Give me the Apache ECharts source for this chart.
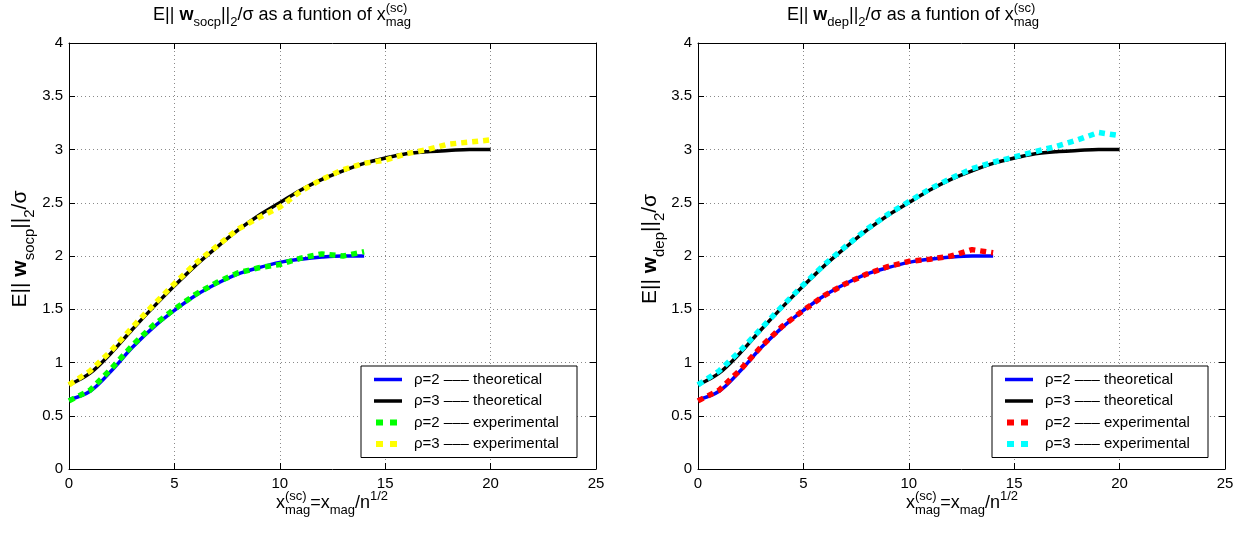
<!DOCTYPE html>
<html>
<head>
<meta charset="utf-8">
<script src="https://cdn.jsdelivr.net/npm/echarts@6/dist/echarts.min.js"></script>
<style>
html,body{margin:0;padding:0;background:#fff;}
#chart{width:1245px;height:533px;}
</style>
</head>
<body>
<div id="chart"></div>
<script>
// ---------- data ----------
const xRho2 = [0,1,2,3,4,5,6,7,8,9,10,11,12,13,14];
const xRho3 = [0,1,2,3,4,5,6,7,8,9,10,11,12,13,14,15,16,17,18,19,20];
const theoRho2 = [0.65,0.73,0.92,1.14,1.33,1.49,1.63,1.74,1.83,1.89,1.94,1.97,1.99,2.00,2.00];
const theoRho3 = [0.79,0.90,1.09,1.31,1.52,1.72,1.91,2.08,2.24,2.38,2.50,2.62,2.72,2.80,2.87,2.92,2.96,2.98,2.99,3.00,3.00];
const socpExpRho2 = [0.64,0.74,0.94,1.16,1.35,1.50,1.64,1.75,1.84,1.89,1.92,1.98,2.02,2.00,2.04];
const socpExpRho3 = [0.79,0.92,1.11,1.33,1.54,1.74,1.93,2.09,2.25,2.36,2.46,2.61,2.72,2.81,2.87,2.90,2.96,3.00,3.05,3.07,3.09];
const depExpRho2 = [0.64,0.74,0.93,1.15,1.34,1.49,1.63,1.74,1.83,1.90,1.95,1.97,2.00,2.06,2.03];
const depExpRho3 = [0.79,0.92,1.11,1.32,1.53,1.73,1.92,2.09,2.25,2.39,2.51,2.63,2.73,2.82,2.88,2.93,2.98,3.03,3.09,3.16,3.13];
const xTickValues = [0,5,10,15,20,25];
const yTickValues = [0,0.5,1,1.5,2,2.5,3,3.5,4];
const legendLabels = ['ρ=2 ––– theoretical','ρ=3 ––– theoretical','ρ=2 ––– experimental','ρ=3 ––– experimental'];

// ---------- helpers ----------
const FAMILY = "'Liberation Sans', Arial, Helvetica, sans-serif";
const mctx = document.createElement('canvas').getContext('2d');
function fontStr(size, bold){ return (bold ? 'bold ' : 'normal ') + size + 'px ' + FAMILY; }
function tw(t, size, bold){ mctx.font = fontStr(size, bold); return mctx.measureText(t).width; }
function txt(t, x, baseline, size, bold){
  return {type:'text', x:x, y:baseline - 0.35*size, silent:true,
    style:{text:t, font:fontStr(size,bold), fill:'#000', align:'left', verticalAlign:'middle', textAlign:'left', textVerticalAlign:'middle'}};
}
// parts: [kind, text] ; kind n,b,sub,sup ; stack: ['stack', sup, sub]
function mathGroup(parts, cx, cy, rot, F, S){
  F = F || 18; S = S || 13;
  const SUB = 0.33*F, SUP = -0.45*F;
  let x = 0; const els = [];
  parts.forEach(p => {
    const k = p[0];
    if (k === 'n' || k === 'b') { els.push(txt(p[1], x, 0, F, k==='b')); x += tw(p[1], F, k==='b'); }
    else if (k === 'sub') { els.push(txt(p[1], x, SUB, S)); x += tw(p[1], S); }
    else if (k === 'sup') { els.push(txt(p[1], x, SUP, S)); x += tw(p[1], S); }
    else if (k === 'stack') { els.push(txt(p[1], x, SUP, S)); els.push(txt(p[2], x, SUB, S)); x += Math.max(tw(p[1],S), tw(p[2],S)); }
  });
  els.forEach(e => { e.x -= x/2; });
  return {type:'group', x:cx, y:cy, rotation:rot||0, children:els};
}
function titleParts(sub){ return [['n','E|| '],['b','w'],['sub',sub],['n','||'],['sub','2'],['n','/σ as a funtion of x'],['stack','(sc)','mag']]; }
function ylabParts(sub){ return [['n','E|| '],['b','w'],['sub',sub],['n','||'],['sub','2'],['n','/σ']]; }
const xlabParts = [['n','x'],['stack','(sc)','mag'],['n','=x'],['sub','mag'],['n','/n'],['sup','1/2']];

// ---------- layout ----------
const grids = [
  {left:69, top:43, width:527, height:426},
  {left:698, top:43, width:527, height:426}
];
const gridColor = '#8a8a8a';
function mkX(gi, pos){
  const main = pos === 'bottom';
  return {type:'value', gridIndex:gi, position:pos, min:0, max:25, interval:5,
    axisLine:{show:true, onZero:false, lineStyle:{color:'#000', width:1}},
    axisTick:{show:true, inside:true, length:6, lineStyle:{color:'#000'}},
    axisLabel:{show:main, margin:7, color:'#000', fontSize:15, fontFamily:FAMILY,
      formatter: v => xTickValues.indexOf(v) >= 0 ? String(v) : ''},
    splitLine:{show:main, lineStyle:{color:gridColor, type:[1,3], width:1}}};
}
function mkY(gi, pos){
  const main = pos === 'left';
  return {type:'value', gridIndex:gi, position:pos, min:0, max:4, interval:0.5,
    axisLine:{show:true, onZero:false, lineStyle:{color:'#000', width:1}},
    axisTick:{show:true, inside:true, length:6, lineStyle:{color:'#000'}},
    axisLabel:{show:main, margin:6, color:'#000', fontSize:15, fontFamily:FAMILY,
      formatter: v => yTickValues.indexOf(v) >= 0 ? String(v) : ''},
    splitLine:{show:main, lineStyle:{color:gridColor, type:[1,3], width:1}}};
}
function pairs(xs, ys){ return xs.map((x,i) => [x, ys[i]]); }
function solid(name, gi, xs, ys, color){
  return {name:name, type:'line', xAxisIndex:gi*2, yAxisIndex:gi*2, data:pairs(xs,ys),
    showSymbol:false, symbol:'none', smooth:0.35, z:2,
    lineStyle:{color:color, width:3.5}, itemStyle:{color:color}};
}
function dotted(name, gi, xs, ys, color){
  return {name:name, type:'line', xAxisIndex:gi*2, yAxisIndex:gi*2, data:pairs(xs,ys),
    showSymbol:false, symbol:'none', smooth:false, z:3,
    lineStyle:{color:color, width:5.5, type:[6,5], cap:'butt'}, itemStyle:{color:color}};
}
const series = [
  solid('L_t2', 0, xRho2, theoRho2, '#0000ff'),
  solid('L_t3', 0, xRho3, theoRho3, '#000000'),
  dotted('L_e2', 0, xRho2, socpExpRho2, '#00ff00'),
  dotted('L_e3', 0, xRho3, socpExpRho3, '#ffff00'),
  solid('R_t2', 1, xRho2, theoRho2, '#0000ff'),
  solid('R_t3', 1, xRho3, theoRho3, '#000000'),
  dotted('R_e2', 1, xRho2, depExpRho2, '#ff0000'),
  dotted('R_e3', 1, xRho3, depExpRho3, '#00ffff')
];
const nameMap = {L_t2:0,L_t3:1,L_e2:2,L_e3:3,R_t2:0,R_t3:1,R_e2:2,R_e3:3};
function mkLegend(prefix, left){
  const names = ['_t2','_t3','_e2','_e3'].map(s => prefix + s);
  return {show:true, orient:'vertical', left:left, top:366, itemWidth:28, itemHeight:15, itemGap:6.5,
    padding:[6,3,6,10], borderColor:'#000', borderWidth:1, backgroundColor:'#fff',
    selectedMode:false,
    itemStyle:{opacity:0, borderWidth:0},
    data: names.map((n,i) => ({name:n, itemStyle:{opacity:0, borderWidth:0},
      lineStyle: i < 2 ? {width:3.5, type:'solid'} : {width:6, type:[7,7], cap:'butt', dashOffset:-2}})),
    formatter: n => legendLabels[nameMap[n]],
    textStyle:{fontSize:15, fontFamily:FAMILY, color:'#000', padding:[0,0,0,7], width:160, lineHeight:15}};
}

const option = {
  animation:false,
  backgroundColor:'#fff',
  grid: grids,
  xAxis: [mkX(0,'bottom'), mkX(0,'top'), mkX(1,'bottom'), mkX(1,'top')],
  yAxis: [mkY(0,'left'), mkY(0,'right'), mkY(1,'left'), mkY(1,'right')],
  legend: [mkLegend('L', 361), mkLegend('R', 992)],
  series: series,
  graphic: [
    mathGroup(titleParts('socp'), 282, 21),
    mathGroup(titleParts('dep'), 913, 21),
    mathGroup(ylabParts('socp'), 28, 249, Math.PI/2, 21, 15),
    mathGroup(ylabParts('dep'), 658, 249, Math.PI/2, 21, 15),
    mathGroup(xlabParts, 332, 509),
    mathGroup(xlabParts, 962, 509)
  ]
};
const chart = echarts.init(document.getElementById('chart'), null, {renderer:'canvas'});
chart.setOption(option);
</script>
</body>
</html>
